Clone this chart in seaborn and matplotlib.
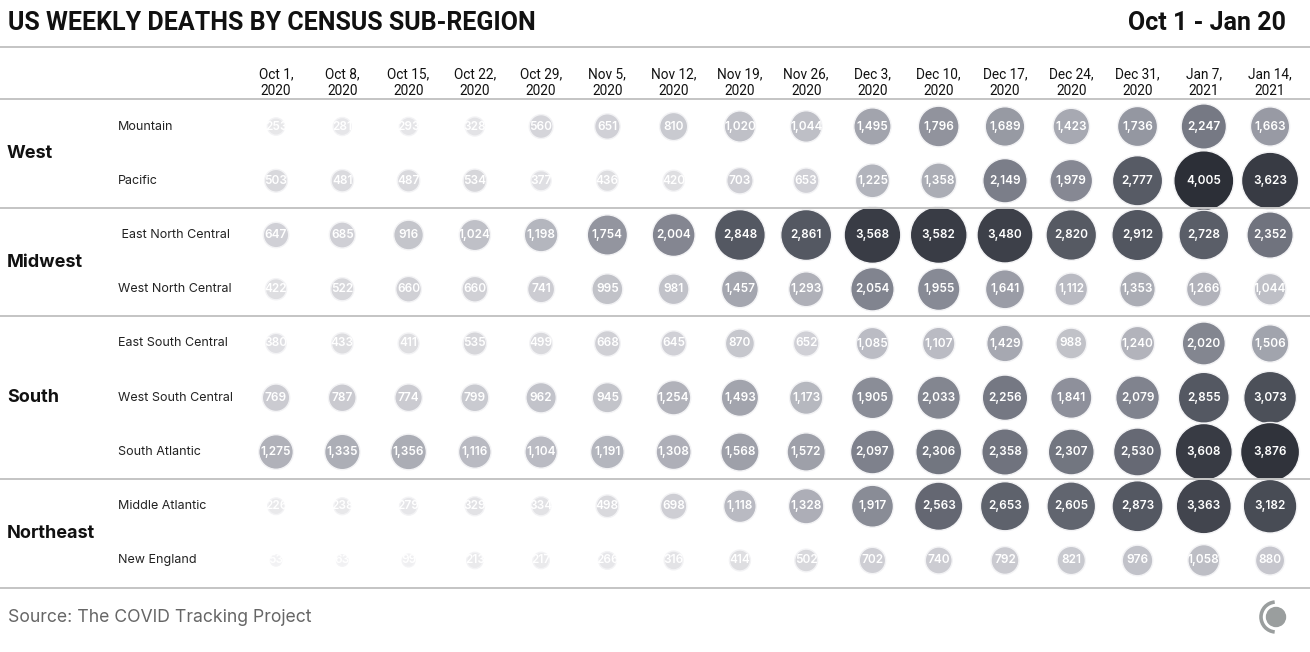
import numpy as np
import pandas as pd
import matplotlib.pyplot as plt
import matplotlib.transforms as mtransforms
import seaborn as sns
from matplotlib.colors import LinearSegmentedColormap
from matplotlib.patches import Circle, Arc

weeks = ["Oct 1,\n2020", "Oct 8,\n2020", "Oct 15,\n2020", "Oct 22,\n2020", "Oct 29,\n2020",
         "Nov 5,\n2020", "Nov 12,\n2020", "Nov 19,\n2020", "Nov 26,\n2020", "Dec 3,\n2020",
         "Dec 10,\n2020", "Dec 17,\n2020", "Dec 24,\n2020", "Dec 31,\n2020", "Jan 7,\n2021",
         "Jan 14,\n2021"]

subregions = ["Mountain", "Pacific", " East North Central", "West North Central",
              "East South Central", "West South Central", "South Atlantic",
              "Middle Atlantic", "New England"]

regions = ["West", "Midwest", "South", "Northeast"]
region_rows = [[0, 1], [2, 3], [4, 5, 6], [7, 8]]

mountain = [253, 281, 293, 328, 560, 651, 810, 1020, 1044, 1495, 1796, 1689, 1423, 1736, 2247, 1663]
pacific = [503, 481, 487, 534, 377, 436, 420, 703, 653, 1225, 1358, 2149, 1979, 2777, 4005, 3623]
east_north_central = [647, 685, 916, 1024, 1198, 1754, 2004, 2848, 2861, 3568, 3582, 3480, 2820, 2912, 2728, 2352]
west_north_central = [422, 522, 660, 660, 741, 995, 981, 1457, 1293, 2054, 1955, 1641, 1112, 1353, 1266, 1044]
east_south_central = [380, 433, 411, 535, 499, 668, 645, 870, 652, 1085, 1107, 1429, 988, 1240, 2020, 1506]
west_south_central = [769, 787, 774, 799, 962, 945, 1254, 1493, 1173, 1905, 2033, 2256, 1841, 2079, 2855, 3073]
south_atlantic = [1275, 1335, 1356, 1116, 1104, 1191, 1308, 1568, 1572, 2097, 2306, 2358, 2307, 2530, 3608, 3876]
middle_atlantic = [226, 238, 279, 329, 334, 498, 698, 1118, 1328, 1917, 2563, 2653, 2605, 2873, 3363, 3182]
new_england = [53, 63, 99, 213, 217, 266, 316, 414, 502, 702, 740, 792, 821, 976, 1058, 880]

series = [mountain, pacific, east_north_central, west_north_central, east_south_central,
          west_south_central, south_atlantic, middle_atlantic, new_england]

rows = []
for r, vals in enumerate(series):
    for c, v in enumerate(vals):
        rows.append({"week": c, "row": r, "deaths": v})
df = pd.DataFrame(rows)

sns.set_theme(style="white")
plt.rcParams["font.family"] = ["Inter", "DejaVu Sans"]

cmap = LinearSegmentedColormap.from_list("deaths", [
    (0.0, "#f4f4f6"), (0.06, "#e8e8ea"), (0.14, "#d4d4d9"), (0.25, "#c0c1c8"),
    (0.37, "#a3a5ae"), (0.53, "#7d808b"), (0.69, "#585c66"), (0.89, "#3a3d46"),
    (1.0, "#2c2f37")])

W, H = 1310, 652
fig = plt.figure(figsize=(W / 100, H / 100), dpi=100)
x0, x1 = 242.9, 1303.2
y0, y1 = 99.4, 587.6
ax = fig.add_axes([x0 / W, 1 - y1 / H, (x1 - x0) / W, (y1 - y0) / H])

sns.scatterplot(data=df, x="week", y="row", size="deaths", hue="deaths",
                sizes=(40, 1866), size_norm=(0, 4005), palette=cmap, hue_norm=(0, 4005),
                edgecolor="#f3f3f5", linewidth=1, legend=False, ax=ax, clip_on=False)

for _, d in df.iterrows():
    ax.text(d["week"], d["row"], f"{int(d['deaths']):,}", ha="center", va="center",
            color="white", fontsize=8.5, fontweight="semibold")

ax.set_xlim(-0.5, 15.5)
ax.set_ylim(8.5, -0.5)
ax.xaxis.tick_top()
ax.set_xticks(range(len(weeks)))
ax.set_xticklabels(weeks, fontsize=9.8, color="#111111", family=["Roboto", "DejaVu Sans"],
                   linespacing=1.25)
ax.tick_params(axis="x", length=0, pad=1)
ax.set_yticks([])
ax.set_xlabel("")
ax.set_ylabel("")
for s in ax.spines.values():
    s.set_visible(False)

# separators
line_kw = dict(color="#c4c4c4", lw=1.4, clip_on=False, xmin=-x0 / (x1 - x0), xmax=(W - x0) / (x1 - x0))
for yy in [-0.5, 1.5, 3.5, 6.5, 8.5]:
    ax.axhline(yy, **line_kw)
fig.add_artist(plt.Line2D([0, 1], [1 - 47 / H, 1 - 47 / H], color="#c4c4c4", lw=1.4))

# row labels
bt = mtransforms.blended_transform_factory(fig.transFigure, ax.transData)
for r, name in enumerate(subregions):
    ax.text(118 / W, r, name, transform=bt, ha="left", va="center", fontsize=9, color="#222222")
for name, rr in zip(regions, region_rows):
    ax.text(7 / W, np.mean(rr), name, transform=bt, ha="left", va="center",
            fontsize=13, fontweight="bold", color="#111111")

fig.text(8 / W, 1 - 23 / H, "US WEEKLY DEATHS BY CENSUS SUB-REGION", ha="left", va="center",
         fontsize=18, fontweight="bold", color="#111111", family=["Roboto", "DejaVu Sans"])
fig.text(1286 / W, 1 - 23 / H, "Oct 1 - Jan 20", ha="right", va="center",
         fontsize=18, fontweight="bold", color="#111111", family=["Roboto", "DejaVu Sans"])
fig.text(8 / W, 1 - 618 / H, "Source: The COVID Tracking Project", ha="left", va="center",
         fontsize=12.7, color="#666666")

# logo
lax = fig.add_axes([1255 / W, 1 - 637 / H, 40 / W, 40 / H])
lax.set_xlim(-20, 20)
lax.set_ylim(-20, 20)
lax.set_aspect("equal")
lax.axis("off")
lax.add_patch(Circle((1, 0), 9.5, color="#9a9e9e"))
lax.add_patch(Arc((1, 0), 30, 30, theta1=95, theta2=265, color="#9a9e9e", lw=2.6))

fig.savefig("out.png", dpi=100, facecolor="white")
